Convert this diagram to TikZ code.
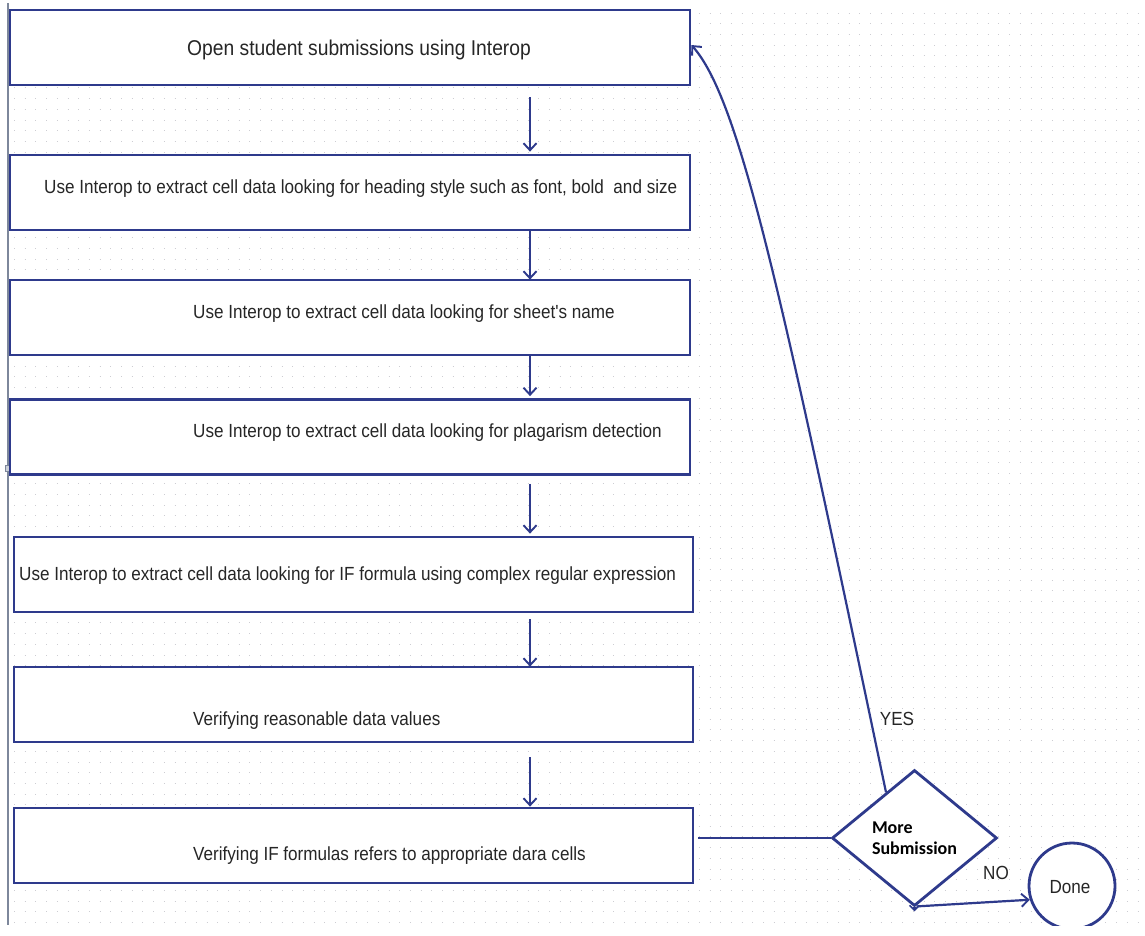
\documentclass[tikz,border=0pt]{standalone}
\usepackage{fontspec}
\usetikzlibrary{arrows.meta,shapes.geometric,calc}
\newfontfamily\flowfont[FakeStretch=0.9]{Liberation Sans}
\newfontfamily\decfont{Carlito}
\definecolor{flowblue}{RGB}{46,58,140}
\definecolor{gridgray}{RGB}{205,205,210}
\definecolor{railgray}{RGB}{125,135,155}
\tikzset{
  stepbox/.style={draw=flowblue, line width=2.8pt, fill=white, minimum height=75pt, inner sep=0pt},
  flowtext/.style={font=\flowfont\fontsize{19}{22}\selectfont, text=black!85, inner sep=0pt, anchor=west},
  arr/.style={draw=flowblue, line width=2.2pt, -{Straight Barb[length=7pt,width=13pt,line width=1.9pt]}},
  link/.style={draw=flowblue, line width=2.2pt},
  decision/.style={diamond, draw=flowblue, line width=2.8pt, fill=white, inner sep=0pt,
    minimum width=165pt, minimum height=136pt, align=left,
    font=\decfont\bfseries\fontsize{18}{21}\selectfont},
  endstate/.style={circle, draw=flowblue, line width=2.8pt, fill=white, minimum size=86pt, inner sep=0pt},
  lbl/.style={font=\flowfont\fontsize{19}{22}\selectfont, text=black!85, inner sep=0pt}
}
\begin{document}
\begin{tikzpicture}[x=1pt,y=-1pt]
\useasboundingbox (0,0) rectangle (1145,935);
\fill[white] (0,0) rectangle (1145,935);

% dotted background grid
\foreach \k in {0,...,85} {
  \draw[gridgray, line width=1pt, dash pattern=on 1pt off 9.7pt]
    (14,{13+10.7*\k}) -- (1145,{13+10.7*\k});
}

% left rail
\draw[railgray, line width=1.6pt] (8,3) -- (8,925);
\fill[railgray!40] (5.5,465) rectangle (11.5,471);
\draw[railgray, line width=0.6pt] (5.5,465) rectangle (11.5,471);

% process steps
\node[stepbox, minimum width=680pt] (b1) at (350,47.5) {};
\node[stepbox, minimum width=680pt] (b2) at (350,192.5) {};
\node[stepbox, minimum width=680pt] (b3) at (350,317.5) {};
\node[stepbox, minimum width=680pt] (b4) at (350,437) {};
\node[stepbox, minimum width=679pt] (b5) at (353.5,574.5) {};
\node[stepbox, minimum width=679pt] (b6) at (353.5,704.5) {};
\node[stepbox, minimum width=679pt] (b7) at (353.5,845.5) {};

\node[flowtext, font=\flowfont\fontsize{21.4}{24}\selectfont] (t1) at (187,49.5) {Open student submissions using Interop};
\node[flowtext] (t2) at (44,189) {Use Interop to extract cell data looking for heading style such as font, bold \ and size};
\node[flowtext] (t3) at (193,314) {Use Interop to extract cell data looking for sheet's name};
\node[flowtext] (t4) at (193,433) {Use Interop to extract cell data looking for plagarism detection};
\node[flowtext] (t5) at (19,576) {Use Interop to extract cell data looking for IF formula using complex regular expression};
\node[flowtext] (t6) at (193,721) {Verifying reasonable data values};
\node[flowtext] (t7) at (193,856) {Verifying IF formulas refers to appropriate dara cells};

% arrows between steps
\coordinate (ax) at (530,0);
\draw[arr, shorten <=11pt, shorten >=2pt] (b1.south -| ax) -- (b2.north -| ax);
\draw[arr, shorten <=-1pt, shorten >=-1pt] (b2.south -| ax) -- (b3.north -| ax);
\draw[arr, shorten <=0pt, shorten >=2pt] (b3.south -| ax) -- (b4.north -| ax);
\draw[arr, shorten <=8pt, shorten >=2pt] (b4.south -| ax) -- (b5.north -| ax);
\draw[arr, shorten <=6pt, shorten >=-1pt] (b5.south -| ax) -- (b6.north -| ax);
\draw[arr, shorten <=14pt, shorten >=0pt] (b6.south -| ax) -- (b7.north -| ax);

% decision and end state
\node[decision] (dm) at (914.5,838) {More\\Submission};
\node[endstate] (done) at (1072,886) {};
\node[lbl] (donetxt) at (1070,887) {Done};

\draw[link] ([xshift=4pt]b7.east |- dm.west) -- (dm.west);
\coordinate (yesstart) at ($(dm.west)!0.66!(dm.north)$);
\draw[arr] (yesstart) .. controls (781,291) and (740,100) .. (b1.east |- 0,45);
\node[lbl] (yes) at (897,719) {YES};

\draw[arr, -{Straight Barb[length=5pt,width=10pt,line width=1.6pt]}] (dm.south) -- ++(0,4);
\draw[arr] ([xshift=2pt,yshift=1pt]dm.south) -- (done.198);
\node[lbl] (no) at (996,873) {NO};

% white strip along the bottom edge
\fill[white] (0,926) rectangle (1145,935);
\end{tikzpicture}
\end{document}
